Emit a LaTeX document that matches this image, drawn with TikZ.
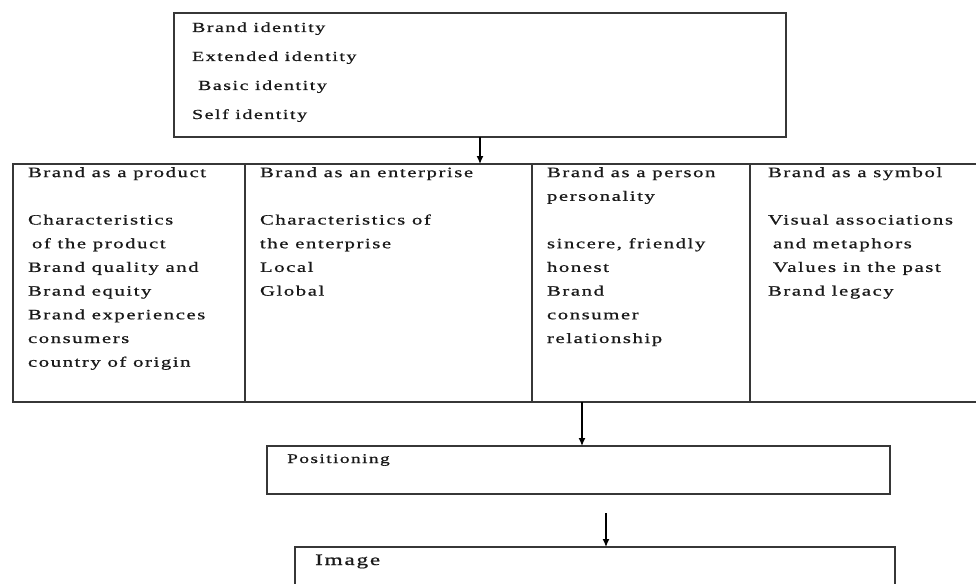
\documentclass[tikz,border=0pt]{standalone}
\usepackage{fontspec}
\setmainfont{Liberation Serif}[FakeStretch=1.45,LetterSpace=11,FakeBold=0.8]
\usetikzlibrary{arrows.meta}
\definecolor{lin}{RGB}{55,55,55}
\definecolor{txt}{RGB}{25,25,25}
\tikzset{
  box/.style={draw=lin, line width=1.3pt, rectangle, inner sep=0pt, outer sep=0pt},
  lbl/.style={inner sep=0pt, outer sep=0pt, align=left, anchor=north west, text=txt,
              font=\fontsize{14.3}{23.7}\selectfont},
  toplbl/.style={lbl, font=\fontsize{13.8}{29}\selectfont},
  arr/.style={draw=black, line width=1.3pt, -{Latex[length=8pt,width=7pt]}}
}
\begin{document}
\begin{tikzpicture}[x=1pt,y=-1pt]
\useasboundingbox (0,0) rectangle (976,583);
\fill[white] (0,0) rectangle (976,583);
\clip (0,0) rectangle (976,583);
% top box
\node[box, minimum width=612pt, minimum height=124pt] (id) at (480,75) {};
\node[toplbl] (idt) at (192,22.4) {Brand identity\\Extended identity\\\hspace*{6pt}Basic identity\\Self identity};
% columns
\node[box, minimum width=232pt, minimum height=238pt] (c1) at (129,283) {};
\node[box, minimum width=287pt, minimum height=238pt] (c2) at (388.5,283) {};
\node[box, minimum width=218pt, minimum height=238pt] (c3) at (641,283) {};
\node[box, minimum width=240pt, minimum height=238pt] (c4) at (870,283) {};
\node[lbl] (c1t) at (28,167.2) {Brand as a product\\[23.7pt]Characteristics\\\hspace*{4pt}of the product\\Brand quality and\\Brand equity\\Brand experiences\\consumers\\country of origin};
\node[lbl] (c2t) at (260,167.2) {Brand as an enterprise\\[23.7pt]Characteristics of\\the enterprise\\Local\\Global};
\node[lbl] (c3t) at (547,167.2) {Brand as a person\\personality\\[23.7pt]sincere, friendly\\honest\\Brand\\consumer\\relationship};
\node[lbl] (c4t) at (768,167.2) {Brand as a symbol\\[23.7pt]Visual associations\\\hspace*{5pt}and metaphors\\\hspace*{5pt}Values in the past\\Brand legacy};
% positioning
\node[box, minimum width=623pt, minimum height=48pt] (pos) at (578.5,470) {};
\node[inner sep=0pt, anchor=base west, text=txt, font=\fontsize{13.3}{16}\selectfont] (post) at (287,463) {Positioning};
% image
\node[box, minimum width=600pt, minimum height=60pt] (img) at (595,577) {};
\node[inner sep=0pt, anchor=base west, text=txt, font=\fontsize{16}{19}\selectfont] (imgt) at (315,565) {Image};
% arrows
\draw[arr] (id.south) -- (id.south |- c2.north);
\draw[arr] ([xshift=3.5pt]pos.north |- c3.south) -- ([xshift=3.5pt]pos.north);
\coordinate (a3) at (606,513);
\draw[arr] (a3) -- (a3 |- img.north);
\end{tikzpicture}
\end{document}
